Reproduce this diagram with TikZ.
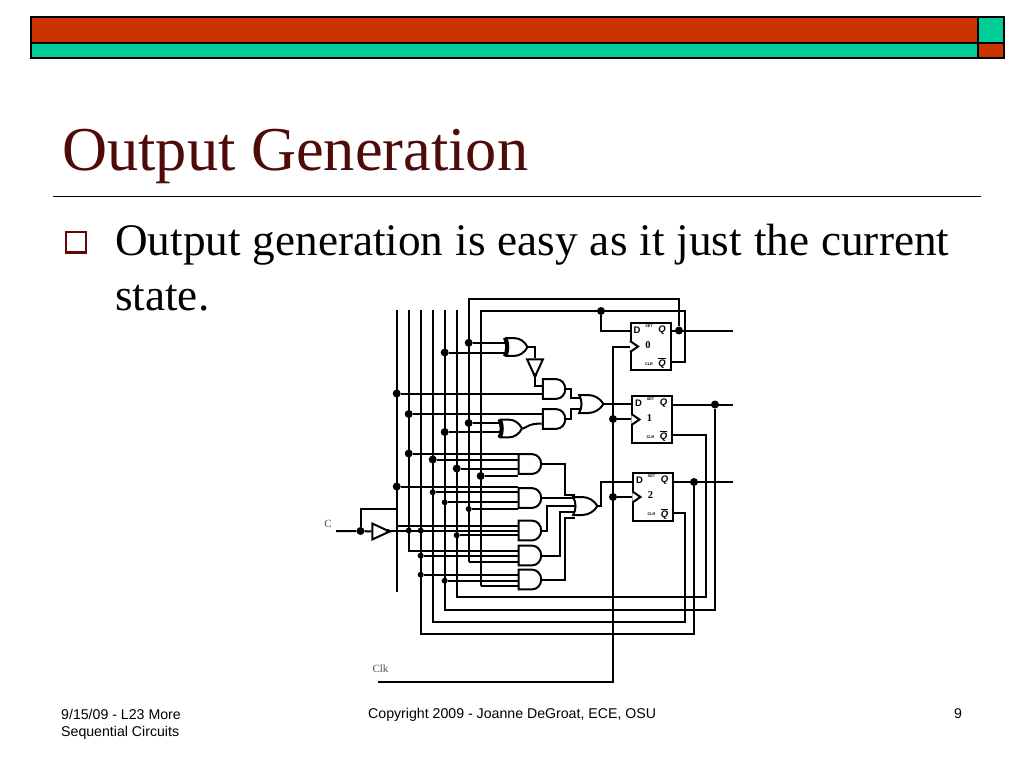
\documentclass[tikz,border=0pt]{standalone}
\usepackage{fontspec}
\setmainfont{Liberation Serif}
\setsansfont{Liberation Sans}
\usetikzlibrary{backgrounds,shapes.gates.logic.US}
\definecolor{slide_red}{HTML}{CC3300}
\definecolor{slide_teal}{HTML}{00CC99}
\definecolor{slide_dark}{HTML}{4F0A0A}
\tikzset{
    wire/.style = {line width=2pt},
    frame_line/.style = {line width=1.5pt},
    textnode/.style = {inner sep=0pt, anchor=base west},
    title_text/.style = {textnode, slide_dark, font=\fontsize{62.4}{62.4}\selectfont},
    body_text/.style = {textnode, font=\fontsize{45.2}{45.2}\selectfont, execute at begin node={\spaceskip=12pt\relax}},
    foot_text/.style = {textnode, font=\sffamily\fontsize{14.15}{14.15}\selectfont},
    sig_text/.style = {inner sep=0pt, black!70, font=\fontsize{11}{11}\selectfont},
    gate/.style = {draw, wire, fill=white, inner sep=0pt, logic gate inputs=nn, transform shape},
    node_and/.style = {gate, and gate US, xscale=.75, yscale=.82},
    node_or/.style = {gate, or gate US, xscale=.74, yscale=.75},
    node_xor/.style = {gate, xor gate US, xscale=.64, yscale=.74},
    node_buf/.style = {gate, buffer gate US, scale=.85},
    node_ff/.style = {draw, wire, fill=white, inner sep=0pt, minimum width=39.5pt, minimum height=47.5pt},
    dot_big/.style = {circle, fill=black, inner sep=0pt, minimum size=8pt},
    dot_small/.style = {circle, fill=black, inner sep=0pt, minimum size=6pt},
    ff_pin/.style = {inner sep=0pt, font=\sffamily\bfseries\fontsize{9.5}{9.5}\selectfont},
    ff_ital/.style = {inner sep=0pt, font=\sffamily\bfseries\itshape\fontsize{9.5}{9.5}\selectfont},
    ff_tiny/.style = {inner sep=0pt, font=\sffamily\bfseries\fontsize{3.8}{3.8}\selectfont},
    ff_num/.style = {inner sep=0pt, font=\bfseries\fontsize{10.5}{10.5}\selectfont}
}
\begin{document}
\begin{tikzpicture}[x=1pt, y=-1pt]
    \useasboundingbox (0,0) rectangle (1024,768);
    % slide frame
    \filldraw[fill=slide_red, frame_line] (31,17) rectangle (978,43);
    \filldraw[fill=slide_teal, frame_line] (31,43) rectangle (978,58);
    \filldraw[fill=slide_teal, frame_line] (978,17) rectangle (1004,43);
    \filldraw[fill=slide_red, frame_line] (978,43) rectangle (1004,58);
    \node[title_text] (title) at (62,170) {Output Generation};
    \draw[line width=1pt] (53,196) -- (981,196);
    \draw[slide_dark!90!red, line width=2.4pt] (66.2,232.2) rectangle (85.8,252.3);
    \node[body_text] (line_a) at (115,255) {Output generation is easy as it just the current};
    \node[body_text] (line_b) at (115,310) {state.};
    \node[foot_text] (foot_a) at (61,719) {9/15/09 - L23 More};
    \node[foot_text] (foot_b) at (61,736) {Sequential Circuits};
    \node[foot_text] (foot_c) at (368,718) {Copyright 2009 - Joanne DeGroat, ECE, OSU};
    \node[foot_text] (foot_d) at (954,718) {9};
    \node[sig_text] (sig_c) at (328,524) {C};
    \node[sig_text] (sig_clk) at (380.5,669) {Clk};

    % flip flops
    \foreach \ff/\px/\py/\digit in {a/650.8/346.5/0, b/652.2/419.5/1, c/653.2/497/2} {
        \node[node_ff] (ff\ff) at (\px,\py) {};
        \node[ff_pin] (ff\ff_d) at ([shift={(7,8)}]ff\ff.north west) {D};
        \node[ff_tiny] (ff\ff_set) at ([shift={(19,4)}]ff\ff.north west) {SET};
        \node[ff_ital] (ff\ff_q) at ([shift={(32,8)}]ff\ff.north west) {Q};
        \node[ff_num] (ff\ff_n) at ([shift={(18,23)}]ff\ff.north west) {\digit};
        \node[ff_tiny] (ff\ff_clr) at ([shift={(19,-7.5)}]ff\ff.south west) {CLR};
        \node[ff_ital] (ff\ff_qb) at ([shift={(32,-8)}]ff\ff.south west) {$\overline{\mbox{Q}}$};
        \draw[wire, fill=white] ([yshift=5.5pt]ff\ff.west) -- ++(8,5.5) -- ++(-8,5.5);
    }

    % gates
    \node[node_xor] (xor_a) at (515.5,347) {};
    \node[node_xor] (xor_b) at (510,428.5) {};
    \node[node_buf, rotate=-90] (buf_a) at (535,365) {};
    \node[node_buf] (buf_c) at (378,531.5) {};
    \node[node_and] (and_t) at (553.3,389) {};
    \node[node_and] (and_u) at (553.3,419) {};
    \node[node_or] (or_a) at (589.5,404) {};
    \node[node_or] (or_b) at (583.5,506) {};
    \node[node_and] (and_a) at (529.2,464) {};
    \node[node_and] (and_b) at (529.2,498) {};
    \node[node_and] (and_c) at (529.2,530.5) {};
    \node[node_and] (and_d) at (529.2,555.5) {};
    \node[node_and] (and_e) at (529.2,579.5) {};

    % junctions
    \foreach \name/\px/\py in {xa/468.7/342.8, xb/444.7/352.5, ia/396.7/393.5, ib/408.7/414, xc/468.7/423, xd/444.7/432,
        g1a/408.7/453.5, g1b/432.7/459.5, g1c/456.7/468.5, g1d/480.7/476, g2a/396.7/486.5, top/601/311,
        qa/679/330.5, qb/715/404.5, qc/694/482, clkb/613/419, clkc/613/497, cin/360.5/531}
        \node[dot_big] (\name) at (\px,\py) {};
    \foreach \name/\px/\py in {g2b/432.7/492.3, g2c/444.7/502.3, g2d/468.7/509, g3a/408.7/530.5, g3b/420.7/530.5,
        g3c/456.7/535.3, g4b/420.7/555.7, g5a/420.7/574.7, g5b/444.7/580.7}
        \node[dot_small] (\name) at (\px,\py) {};
    \node[dot_small, minimum size=4pt] (bub_a) at (535,375) {};
    \node[dot_small, minimum size=4pt] (bub_c) at (388,531) {};

    % bus ends and corners
    \foreach \name/\px/\py in {b1/396.7/310, b2/408.7/310, b3/420.7/310, b4/432.7/310, b5/444.7/310, b6/456.7/310,
        e1/396.7/591.7, e2/408.7/551, e3/420.7/633.7, e4/432.7/622, e5/444.7/609.7, e6/456.7/597,
        b7/468.7/299, e7/468.7/561.7, b8/480.7/311, e8/480.7/585.7,
        ra/685/362, rb/706/435, rc/684.7/512.7, oa/733/330.5, ob/733/404.5, oc/733/481.5,
        ctop/396.7/509.3, clkt/613/346.5, clkl/378/681.7, ca/360.5/509.3, t3/396.7/526, cd/535/385.5,
        ka1/570.7/389, ka2/570.7/398.3, kb1/570.7/419, kb2/570.7/409.3, kx/541.7/423.5,
        kc1/565/464, kc2/565/495, kd1/546.7/530.5, kd2/546.7/506, ke1/560/555.5, ke2/560/511.7,
        kf1/565/579.5, kf2/565/517.7, kg1/600.7/506, kg2/600.7/481.5, kh/601/330.5, cw/336/531}
        \coordinate (\name) at (\px,\py);

    \begin{scope}[on background layer={wire}]
        \draw (b1) -- (e1);
        \draw (b2) -- (e2) -- (e2 -| and_d.west);
        \draw (b3) -- (e3) -| (qc);
        \draw (b4) -- (e4) -| (rc) -- (rc -| ffc.east);
        \draw (b5) -- (e5) -| (qb);
        \draw (b6) -- (e6) -| (rb) -- (rb -| ffb.east);
        \draw (e7) -- (b7) -| (qa);
        \draw (e7) -- (e7 -| and_d.west);
        \draw (e8) -- (b8) -| (ra) -- (ra -| ffa.east);
        \draw (e8) -- (e8 -| and_e.west);
        % inputs of the gates
        \foreach \from/\to in {xa/xor_a, xb/xor_a, xc/xor_b, xd/xor_b, ia/and_t, ib/and_u,
            g1a/and_a, g1b/and_a, g1c/and_a, g1d/and_a, g2a/and_b, g2b/and_b, g2c/and_b, g2d/and_b,
            t3/and_c, bub_c/and_c, g3c/and_c, g4b/and_d, g5a/and_e, g5b/and_e}
            \draw (\from) -- (\from -| \to.west);
        % outputs
        \draw (xor_a.east) -| (buf_a.west);
        \draw (buf_a.east) -- (bub_a) -- (cd) -- (cd -| and_t.west);
        \draw (xor_b.east) .. controls (526,428) and (528,423.5) .. (kx);
        \draw (and_t.east) -- (ka1) -- (ka2) -- (ka2 -| or_a.west);
        \draw (and_u.east) -- (kb1) -- (kb2) -- (kb2 -| or_a.west);
        \draw (or_a.east) -- (or_a.east -| ffb.west);
        \draw (and_a.east) -- (kc1) -- (kc2) -- (kc2 -| or_b.west);
        \draw (and_b.east) -- (and_b.east -| or_b.west);
        \draw (and_c.east) -- (kd1) -- (kd2) -- (kd2 -| or_b.west);
        \draw (and_d.east) -- (ke1) -- (ke2) -- (ke2 -| or_b.west);
        \draw (and_e.east) -- (kf1) -- (kf2) -- (kf2 -| or_b.west);
        \draw (or_b.east) -- (kg1) -- (kg2) -- (kg2 -| ffc.west);
        % flip flop pins
        \draw (top) -- (kh) -- (kh -| ffa.west);
        \draw (oa -| ffa.east) -- (oa);
        \draw (ob -| ffb.east) -- (ob);
        \draw (oc -| ffc.east) -- (oc);
        \draw (clkl) -| (clkt) -- (clkt -| ffa.west);
        \draw (clkb) -- (clkb -| ffb.west);
        \draw (clkc) -- (clkc -| ffc.west);
        % input C
        \draw (cw) -- (cin) -- (buf_c.west);
        \draw (cin) -- (ca) -- (ctop);
        \draw (buf_c.east) -- (bub_c);
    \end{scope}
\end{tikzpicture}
\end{document}
